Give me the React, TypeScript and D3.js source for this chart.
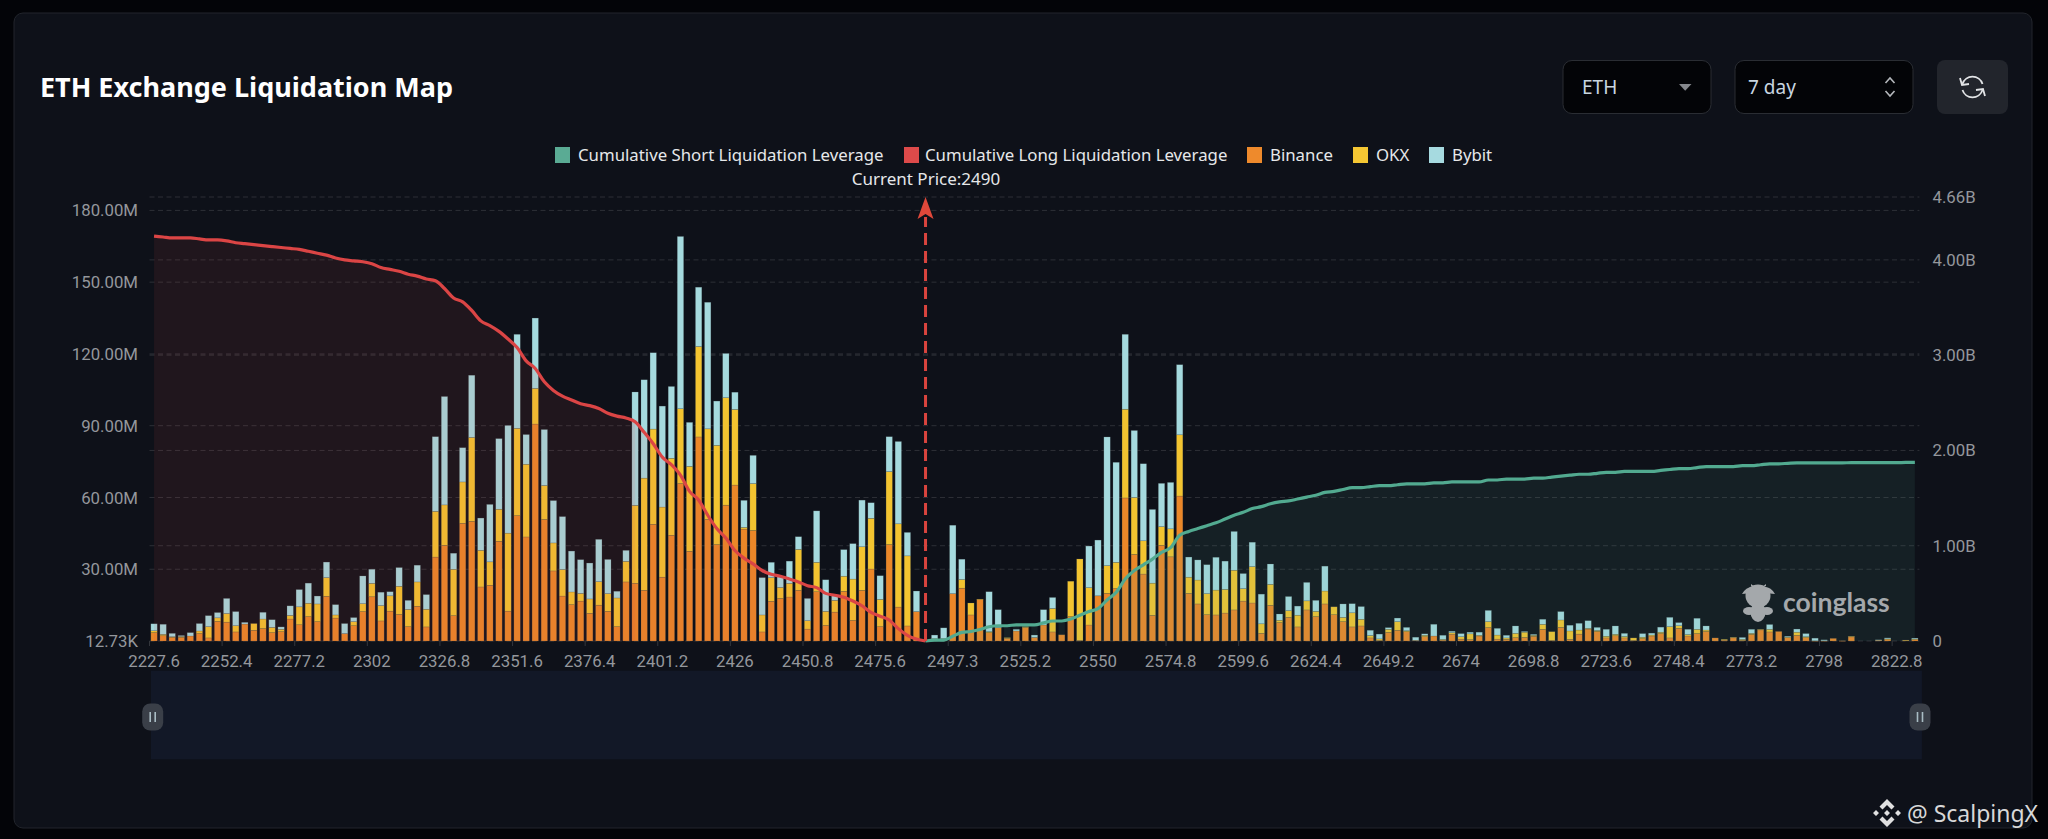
import React from 'react';
import * as d3 from 'd3';

const categories = [
  2227.6, 2230.7, 2233.8, 2236.9, 2240, 2243.1, 2246.2, 2249.3,
  2252.4, 2255.5, 2258.6, 2261.7, 2264.8, 2267.9, 2271, 2274.1,
  2277.2, 2280.3, 2283.4, 2286.5, 2289.6, 2292.7, 2295.8, 2298.9,
  2302, 2305.1, 2308.2, 2311.3, 2314.4, 2317.5, 2320.6, 2323.7,
  2326.8, 2329.9, 2333, 2336.1, 2339.2, 2342.3, 2345.4, 2348.5,
  2351.6, 2354.7, 2357.8, 2360.9, 2364, 2367.1, 2370.2, 2373.3,
  2376.4, 2379.5, 2382.6, 2385.7, 2388.8, 2391.9, 2395, 2398.1,
  2401.2, 2404.3, 2407.4, 2410.5, 2413.6, 2416.7, 2419.8, 2422.9,
  2426, 2429.1, 2432.2, 2435.3, 2438.4, 2441.5, 2444.6, 2447.7,
  2450.8, 2453.9, 2457, 2460.1, 2463.2, 2466.3, 2469.4, 2472.5,
  2475.6, 2478.7, 2481.8, 2484.9, 2488, 2490, 2491.1, 2494.2,
  2497.3, 2503.5, 2506.6, 2509.7, 2512.8, 2515.9, 2519, 2522.1,
  2525.2, 2528.3, 2531.4, 2534.5, 2537.6, 2540.7, 2543.8, 2546.9,
  2550, 2553.1, 2556.2, 2559.3, 2562.4, 2565.5, 2568.6, 2571.7,
  2574.8, 2577.9, 2581, 2584.1, 2587.2, 2590.3, 2593.4, 2596.5,
  2599.6, 2602.7, 2605.8, 2608.9, 2612, 2615.1, 2618.2, 2621.3,
  2624.4, 2627.5, 2630.6, 2633.7, 2636.8, 2639.9, 2643, 2646.1,
  2649.2, 2652.3, 2655.4, 2658.5, 2661.6, 2664.7, 2667.8, 2670.9,
  2674, 2677.1, 2680.2, 2683.3, 2686.4, 2689.5, 2692.6, 2695.7,
  2698.8, 2701.9, 2705, 2708.1, 2711.2, 2714.3, 2717.4, 2720.5,
  2723.6, 2726.7, 2729.8, 2732.9, 2736, 2739.1, 2742.2, 2745.3,
  2748.4, 2751.5, 2754.6, 2757.7, 2760.8, 2763.9, 2767, 2770.1,
  2773.2, 2776.3, 2779.4, 2782.5, 2785.6, 2788.7, 2791.8, 2794.9,
  2798, 2801.1, 2804.2, 2807.3, 2810.4, 2813.5, 2816.6, 2819.7,
  2822.8, 2825.9, 2829,
];

// millions
const binance = [
  3.5, 2.2, 1.5, 1.5, 2.1, 3.1, 1.3, 8.2, 7.9, 3.8, 7.1, 4.5, 5.2, 3.5, 3.9, 9.2,
  6.8, 10.2, 8.1, 18.7, 9.6, 3.1, 6.4, 12.3, 18.5, 8.4, 12.5, 11.1, 6, 14.5, 5.9, 35.1,
  40, 10.6, 49.2, 50, 22.6, 23.3, 41.7, 12.5, 52.4, 43.5, 90.7, 50.8, 29.3, 18.8, 15.2, 16.7,
  11.6, 15, 12.4, 6, 24.7, 24.1, 21.2, 48.8, 26.7, 44.2, 65.8, 37.5, 85.3, 50.8, 40.3, 56.8,
  65.2, 46.8, 46.2, 3.8, 16.6, 17.8, 18.4, 21.2, 5, 20.6, 6.5, 12.1, 20.8, 8.6, 21.2, 30.1,
  6, 40.3, 14.2, 6.3, 12.3, 0, 0.7, 0.7, 19.8, 22.1, 10.9, 17.4, 3.5, 5.6, 1.1, 4.2,
  5.7, 1.5, 6.7, 3.8, 2.6, 10.2, 0.3, 6.7, 18.9, 19.9, 21.9, 59.8, 36.2, 28, 10.7, 40,
  35.2, 60.6, 19.9, 15.5, 11, 10.9, 11.7, 13, 16.7, 15.9, 3.2, 14.9, 7.7, 9.9, 5.9, 13,
  10.2, 15.5, 11, 8.1, 5.9, 6.3, 1.3, 0.3, 3.6, 4.5, 3.9, 0.3, 1.8, 2.1, 0.4, 2.9,
  0.8, 0.6, 2.1, 5.6, 0.8, 0.7, 1.4, 1.5, 2, 4.9, 0.3, 5.7, 0.7, 2.9, 5, 4,
  1.3, 2.2, 1.3, 0.3, 1, 2.1, 3.1, 1.3, 5.3, 2.1, 3.1, 4, 1.3, 0.4, 1.4, 0.3,
  2.8, 4.7, 3.8, 4, 1.5, 2.4, 1.4, 0.1, 0.1, 1.1, 0.1, 1.8, 0, 0, 0.4, 0.8,
  0, 0.3, 0.7,
];

const okx = [
  0.8, 0.6, 0.3, 0.4, 0, 1.1, 4.7, 1.5, 3.6, 2.6, 0, 2.8, 4, 2.2, 1, 1.5,
  7.5, 5.6, 7.4, 7.8, 1.3, 0, 1.7, 3.3, 5.6, 6.4, 6.4, 11.8, 7.2, 10.2, 7.4, 19.1,
  16.9, 19.4, 17.3, 35.1, 15.3, 9.8, 13.4, 32.6, 36.5, 30.4, 14.9, 14.2, 11.7, 11.1, 5.3, 3.2,
  6, 9.8, 7.4, 12, 8.6, 32.6, 46.9, 39.8, 29.3, 32.2, 31.3, 35.5, 37.8, 37.9, 41.5, 44.9,
  31.6, 0.7, 19.6, 7.1, 9.9, 4.6, 5.7, 17.1, 3.5, 12.3, 5.9, 4.9, 6.3, 17.3, 18.2, 21.2,
  11.4, 30.5, 34.8, 29.3, 0, 0, 0.3, 0.3, 0, 3.6, 5, 0.1, 0.4, 0, 0.3, 0,
  0.3, 0, 0, 9.8, 0, 14.8, 34, 15.6, 0, 11.6, 11, 37.1, 23.8, 13.9, 13.5, 7.8,
  11.7, 25.6, 6.8, 10, 8.8, 10.4, 9.9, 16.6, 5.2, 15.2, 4, 8.8, 1, 2.8, 4.9, 3.8,
  2.2, 5.4, 3.3, 1.8, 5.9, 2.8, 1, 0.6, 1.3, 3.6, 0.4, 0, 0.6, 0, 0.3, 0.6,
  1, 2.4, 0.3, 2.5, 1.7, 0.6, 1.8, 2.2, 0.4, 2.1, 3.6, 3.1, 3.5, 1.7, 0.3, 0.4,
  0.7, 0.6, 0.6, 1, 0.6, 0.4, 0.6, 4.7, 1.1, 0.6, 1.8, 0.6, 0, 0.3, 0.1, 0.4,
  0.4, 0.1, 1.1, 0, 0.1, 1.3, 0.4, 0, 0, 0, 0, 0.1, 0, 0, 0, 0.1,
  0, 0.1, 0.1,
];

const bybit = [
  2.9, 4.2, 1.4, 0.4, 1.4, 3.1, 4.6, 2.2, 6.3, 5.9, 0.7, 0, 2.8, 3.2, 1, 4,
  7.2, 8.4, 3.3, 6.5, 4.3, 4.2, 1.7, 11.6, 5.9, 5.6, 1.7, 7.8, 3.8, 7, 6.1, 31.2,
  45.3, 6.7, 14.3, 26, 13.5, 24, 29.5, 45, 39.3, 12.4, 29.4, 23.4, 17.7, 22.1, 17.1, 14.1,
  15, 17.7, 14.3, 2.8, 4.6, 47.4, 41.1, 31.9, 42.2, 30, 72, 18.4, 24.8, 52.9, 18.5, 18.5,
  7.2, 11.3, 11.8, 15.6, 6.4, 4.5, 9.3, 5.3, 9.3, 21.5, 13.2, 2, 11.1, 14.8, 19.5, 6.5,
  9.9, 14.6, 34.4, 9.8, 8.6, 0, 1.5, 4.5, 28.6, 8.5, 0, 0, 16.7, 7.5, 0, 0.7,
  0, 1, 6.4, 4.6, 0, 0, 0, 17.4, 23.3, 53.8, 41.8, 31.3, 28, 32.2, 30.8, 18.1,
  19.4, 29.3, 8.4, 8.4, 12.1, 13.7, 11.8, 16.2, 6.3, 10.2, 12.4, 8.5, 2.6, 5.9, 3.8, 7.7,
  4.6, 10.4, 0, 5.6, 3.8, 5.3, 2.2, 2, 0.7, 1.5, 1.4, 1.3, 0.6, 4.9, 1.7, 0.6,
  1.3, 0.7, 1.3, 4.7, 2.8, 1.1, 3.1, 0.3, 0.4, 2.1, 0, 3.5, 2.4, 2.8, 3.2, 1.3,
  2.9, 3.5, 1.3, 0, 1.5, 0.8, 2.1, 3.9, 1.3, 2.2, 4.6, 1.7, 0, 0, 0, 0.8,
  1.7, 0, 2, 0, 0.4, 1.3, 1.3, 1.1, 0.4, 0, 0, 0, 0, 0, 0.1, 0.4,
  0, 0, 0.4,
];

// billions, from the first category up to the current price
const cumulativeLong = [
  4.25, 4.24, 4.23, 4.23, 4.23, 4.22, 4.21, 4.21, 4.2, 4.18, 4.17, 4.16, 4.15, 4.14, 4.13, 4.12,
  4.11, 4.09, 4.07, 4.05, 4.02, 4, 3.99, 3.98, 3.96, 3.92, 3.9, 3.88, 3.85, 3.83, 3.8, 3.78,
  3.7, 3.6, 3.56, 3.47, 3.36, 3.31, 3.25, 3.17, 3.08, 2.94, 2.86, 2.72, 2.63, 2.57, 2.53, 2.49,
  2.47, 2.44, 2.39, 2.36, 2.34, 2.3, 2.19, 2.07, 1.93, 1.85, 1.74, 1.57, 1.48, 1.32, 1.18, 1.08,
  0.95, 0.87, 0.81, 0.74, 0.7, 0.68, 0.65, 0.62, 0.58, 0.56, 0.5, 0.48, 0.46, 0.42, 0.37, 0.3,
  0.26, 0.22, 0.13, 0.06, 0.02, 0,
];

// billions, from the current price up to the last category
const cumulativeShort = [
  0, 0.01, 0.01, 0.05, 0.09, 0.1, 0.12, 0.15, 0.16, 0.16, 0.17, 0.17, 0.17, 0.19, 0.21, 0.21,
  0.23, 0.27, 0.31, 0.34, 0.43, 0.51, 0.65, 0.74, 0.8, 0.86, 0.93, 0.98, 1.11, 1.15, 1.18, 1.21,
  1.24, 1.28, 1.32, 1.35, 1.39, 1.41, 1.44, 1.46, 1.47, 1.49, 1.51, 1.53, 1.56, 1.57, 1.59, 1.61,
  1.61, 1.62, 1.63, 1.63, 1.64, 1.65, 1.65, 1.65, 1.66, 1.66, 1.67, 1.67, 1.67, 1.67, 1.69, 1.69,
  1.7, 1.7, 1.7, 1.71, 1.71, 1.72, 1.73, 1.74, 1.75, 1.75, 1.76, 1.77, 1.77, 1.78, 1.78, 1.78,
  1.78, 1.79, 1.8, 1.81, 1.81, 1.82, 1.83, 1.83, 1.83, 1.83, 1.84, 1.84, 1.85, 1.86, 1.86, 1.865,
  1.87, 1.87, 1.87, 1.87, 1.87, 1.87, 1.872, 1.872, 1.872, 1.872, 1.872, 1.872, 1.874, 1.874,
];

const leftTicks = [0.01273, 30, 60, 90, 120, 150, 180];
const leftTickLabels = ['12.73K', '30.00M', '60.00M', '90.00M', '120.00M', '150.00M', '180.00M'];
const rightTicks = [0, 1, 2, 3, 4, 4.66];
const rightTickLabels = ['0', '1.00B', '2.00B', '3.00B', '4.00B', '4.66B'];

const currentPrice = 2490;
const tickEvery = 8;
const longFillEnd = 53;
const shortFillStart = 103;

const legendItems = [
  { label: 'Cumulative Short Liquidation Leverage', color: '#5AAB94', x: 555, textX: 578 },
  { label: 'Cumulative Long Liquidation Leverage', color: '#DD4A4A', x: 904, textX: 925 },
  { label: 'Binance', color: '#EE8A2C', x: 1247, textX: 1270 },
  { label: 'OKX', color: '#F5C733', x: 1353, textX: 1376 },
  { label: 'Bybit', color: '#A6DAE0', x: 1429, textX: 1452 },
];

const exchangeColors = ['#EB8728', '#F3C430', '#A5DADE'];
const axisFont = 'Roboto, sans-serif';
const uiFont = '"Noto Sans", sans-serif';

const plotLeft = 149.5;
const plotRight = 1919.4;
const plotTop = 197;
const plotBottom = 641;

const x = d3.scaleBand<number>().domain(categories).range([plotLeft, plotRight]).paddingInner(0.3).paddingOuter(0.15);
const center = (c: number) => (x(c) as number) + x.bandwidth() / 2;
const bandStart = (c: number) => (x(c) as number) - (x.step() - x.bandwidth()) / 2;

const yLeft = d3.scaleLinear().domain([0.01273, 185.6]).range([plotBottom, plotTop]);
const yRight = d3.scaleLinear().domain([0, 4.66]).range([plotBottom, plotTop]);

const rows = categories.map((c, i) => ({ c, binance: binance[i], okx: okx[i], bybit: bybit[i] }));
const stacked = d3.stack<any>().keys(['binance', 'okx', 'bybit'])(rows);

const longPts = cumulativeLong.map((v, i) => ({ c: categories[i], v }));
const shortPts = cumulativeShort.map((v, i) => ({ c: categories[categories.indexOf(currentPrice) + i], v }));

const linePath = d3.line<{ c: number; v: number }>().x(d => center(d.c)).y(d => yRight(d.v)).curve(d3.curveMonotoneX);
const areaPath = d3.area<{ c: number; v: number }>().x(d => center(d.c)).y0(plotBottom).y1(d => yRight(d.v)).curve(d3.curveMonotoneX);

const shortFillFrom = shortFillStart - categories.indexOf(currentPrice);
const priceX = center(currentPrice);

const App: React.FC = () => {
  return (
    <svg width={2048} height={839} style={{ position: 'absolute', left: 0, top: 0, display: 'block', background: '#030408' }}>
      <defs>
        <clipPath id="long-bars">
          {rows.slice(longFillEnd, categories.indexOf(currentPrice)).map(r => (
            <rect key={r.c} x={x(r.c)} y={plotTop} width={x.bandwidth()} height={plotBottom - plotTop} />
          ))}
        </clipPath>
        <clipPath id="short-bars">
          {rows.slice(categories.indexOf(currentPrice), shortFillStart).map(r => (
            <rect key={r.c} x={x(r.c)} y={plotTop} width={x.bandwidth()} height={plotBottom - plotTop} />
          ))}
        </clipPath>
      </defs>

      <rect x={14} y={13} width={2018} height={815} rx={9} fill="#0E1119" stroke="#22252C" />

      <text x={40} y={97} fontFamily={uiFont} fontWeight={700} fontSize={27} fill="#FFFFFF">ETH Exchange Liquidation Map</text>

      {/* controls */}
      <rect x={1563} y={60.5} width={148} height={53} rx={9} fill="#030407" stroke="#2A2D33" />
      <text x={1582} y={94} fontFamily={uiFont} fontSize={19} fill="#C9D6E0">ETH</text>
      <path d="M1679 84 L1691.5 84 L1685.2 90.7 Z" fill="#85888D" />
      <rect x={1735} y={60.5} width={178} height={53} rx={9} fill="#030407" stroke="#2A2D33" />
      <text x={1748} y={94} fontFamily={uiFont} fontSize={19} fill="#C9D6E0">7 day</text>
      <path d="M1885.5 83 L1890 78 L1894.5 83 M1885.5 91 L1890 96 L1894.5 91" fill="none" stroke="#B5B8BC" strokeWidth={1.6} />
      <rect x={1937} y={60} width={71} height={54} rx={8} fill="#22252C" />
      <g fill="none" stroke="#E2E4E6" strokeWidth={1.8}>
        <path d="M1962.5 84 A10.5 10.5 0 0 1 1982.5 84" />
        <path d="M1982.5 90 A10.5 10.5 0 0 1 1962.5 90" />
        <path d="M1960 78 L1962 85 L1969 84" />
        <path d="M1985 96 L1983 89 L1976 90" />
      </g>

      {/* legend */}
      {legendItems.map(d => (
        <g key={d.label}>
          <rect x={d.x} y={147} width={15} height={16} fill={d.color} />
          <text x={d.textX} y={160.5} fontFamily={uiFont} fontSize={16.8} fill="#E6E8EA">{d.label}</text>
        </g>
      ))}
      <text x={926} y={185} textAnchor="middle" fontFamily={uiFont} fontSize={17} fill="#E6E8EA">{`Current Price:${currentPrice}`}</text>

      {/* grid */}
      <g stroke="#FFFFFF" strokeOpacity={0.13} strokeDasharray="5 3.5">
        {leftTicks.map(t => <line key={t} x1={plotLeft} x2={plotRight} y1={yLeft(t)} y2={yLeft(t)} />)}
        {rightTicks.slice(1).map(t => <line key={t} x1={plotLeft} x2={plotRight} y1={yRight(t)} y2={yRight(t)} />)}
      </g>

      {/* axes */}
      <g fontFamily={axisFont} fontSize={16.8} fill="#94979C">
        {leftTicks.map((t, i) => (
          <text key={t} x={138} y={yLeft(t)} dy="0.36em" textAnchor="end">{leftTickLabels[i]}</text>
        ))}
        {rightTicks.map((t, i) => (
          <text key={t} x={1932.5} y={yRight(t)} dy="0.36em">{rightTickLabels[i]}</text>
        ))}
        {categories.map((c, i) => i % tickEvery === 0 && (
          <g key={c}>
            <line x1={bandStart(c)} x2={bandStart(c)} y1={plotBottom} y2={plotBottom + 5} stroke="#33363C" />
            <text x={center(c)} y={667} textAnchor="middle">{c}</text>
          </g>
        ))}
      </g>

      {/* stacked bars */}
      {stacked.map((layer, k) => (
        <g key={layer.key} fill={exchangeColors[k]} stroke="#4A5458" strokeOpacity={0.4} strokeWidth={0.5}>
          {layer.map(d => d[1] > d[0] && (
            <rect
              key={d.data.c}
              x={x(d.data.c)}
              y={yLeft(d[1])}
              width={x.bandwidth()}
              height={Math.max(yLeft(d[0]) - yLeft(d[1]), 0.5)}
            />
          ))}
        </g>
      ))}

      {/* cumulative curves */}
      <path d={areaPath(longPts.slice(0, longFillEnd + 1)) as string} fill="#D94A4A" fillOpacity={0.095} />
      <path d={areaPath(longPts) as string} fill="#D94A4A" fillOpacity={0.095} clipPath="url(#long-bars)" />
      <path d={areaPath(shortPts.slice(shortFillFrom)) as string} fill="#5AAA90" fillOpacity={0.1} />
      <path d={areaPath(shortPts) as string} fill="#5AAA90" fillOpacity={0.1} clipPath="url(#short-bars)" />
      <path d={linePath(longPts) as string} fill="none" stroke="#DB4545" strokeWidth={3.2} />
      <path d={linePath(shortPts) as string} fill="none" stroke="#52AA90" strokeWidth={3.2} />

      {/* current price marker */}
      <line x1={priceX} x2={priceX} y1={plotBottom} y2={plotTop + 20} stroke="#D9443E" strokeWidth={3} strokeDasharray="12 6" />
      <path d={`M${priceX} ${plotTop} L${priceX + 8} ${plotTop + 22} L${priceX} ${plotTop + 17} L${priceX - 8} ${plotTop + 22} Z`} fill="#E0483A" />

      {/* watermark */}
      <g fill="#A4A8AB">
        <ellipse cx={1758} cy={596} rx={12.5} ry={11.5} />
        <ellipse cx={1758} cy={612} rx={7.5} ry={10} />
        <ellipse cx={1749} cy={611} rx={6} ry={4} />
        <ellipse cx={1767} cy={611} rx={6} ry={4} />
        <path d="M1742 594 Q1746 587 1752 587 L1752 593 Z M1775 594 Q1771 587 1765 587 L1765 593 Z" />
        <path d="M1751 586 L1751 584 L1755 587 Z M1766 586 L1766 584 L1762 587 Z" />
      </g>
      <text x={1783} y={612} fontFamily="Lato, sans-serif" fontWeight={700} fontSize={26.5} fill="#A4A8AB">coinglass</text>

      {/* slider */}
      <rect x={151} y={670.7} width={1770.9} height={88.6} fill="#121827" />
      {[152.7, 1920].map(cx => (
        <g key={cx}>
          <rect x={cx - 10.5} y={703.5} width={21} height={27} rx={8} fill="#3A3F48" />
          <path d={`M${cx - 2.5} 712 V722 M${cx + 2.5} 712 V722`} stroke="#A9BCC4" strokeWidth={1.6} />
        </g>
      ))}

      {/* author tag */}
      <g fill="#E0E0E0" transform="translate(1887 813)">
        <path d="M0 -14 L7.5 -6.5 L4.5 -3.5 L0 -8 L-4.5 -3.5 L-7.5 -6.5 Z" />
        <path d="M0 14 L7.5 6.5 L4.5 3.5 L0 8 L-4.5 3.5 L-7.5 6.5 Z" />
        <path d="M-14 0 L-11 -3 L-8 0 L-11 3 Z M14 0 L11 -3 L8 0 L11 3 Z M0 -3 L3 0 L0 3 L-3 0 Z" />
      </g>
      <text x={1907} y={821.5} fontFamily={uiFont} fontSize={23} fill="#D8D8D8">@ ScalpingX</text>
    </svg>
  );
};

export default App;
